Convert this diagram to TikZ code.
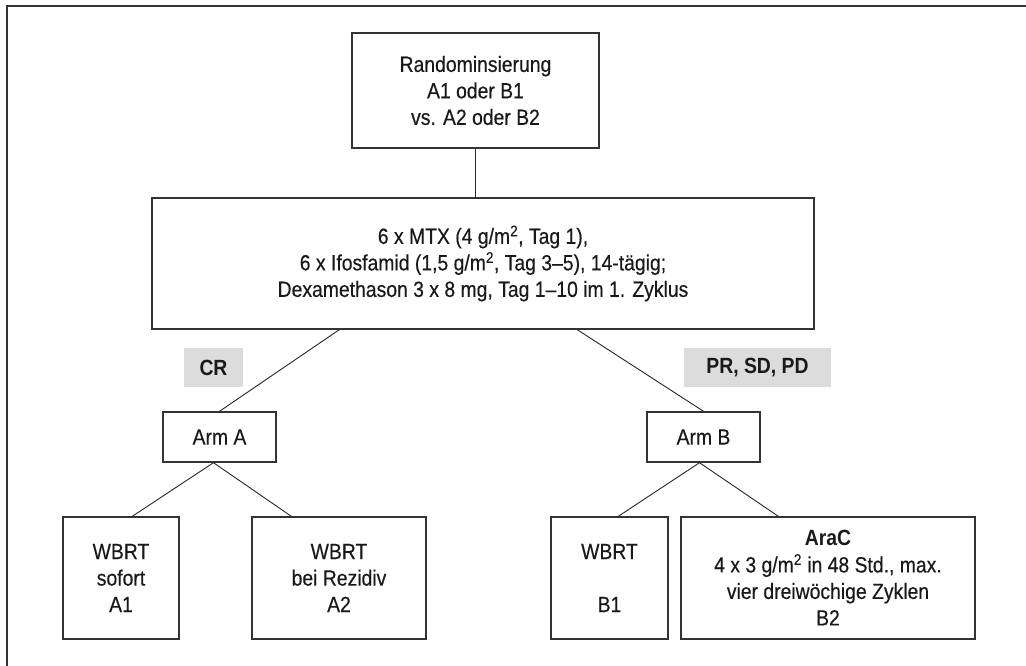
\documentclass[tikz,border=0pt]{standalone}
\usepackage{fontspec}
\setmainfont{Liberation Sans}[FakeStretch=0.88, UprightFeatures={FakeBold=0.35}]
\definecolor{boxline}{HTML}{333333}
\definecolor{taggray}{HTML}{DCDCDC}
\begin{document}
\begin{tikzpicture}[x=1pt,y=-1pt,
  txt/.style={font=\fontsize{22}{26.5}\selectfont, text=black!90},
  box/.style={txt, draw=boxline, line width=1.4pt, align=center, inner sep=0pt},
  tag/.style={fill=taggray, font=\fontsize{22}{26.5}\selectfont\bfseries, text=black!90, inner sep=0pt},
  link/.style={draw=black!85, line width=0.9pt},
  frameline/.style={draw=boxline, line width=1.8pt}]
\useasboundingbox (0,0) rectangle (1026,666);

% outer frame (only its top and left sides lie on the page)
\draw[frameline] (1026,6) -- (7,6) -- (7,666);

% study design boxes
\node[box, minimum width=247pt, minimum height=115pt] (top) at (475.5,90.5)
  {Randominsierung\\A1 oder B1\\vs. A2 oder B2};
\node[box, minimum width=662pt, minimum height=131pt] (mid) at (483,263.5)
  {6 x MTX (4 g/m\textsuperscript{2}, Tag 1),\\
   6 x Ifosfamid (1,5 g/m\textsuperscript{2}, Tag 3–5), 14-tägig;\\
   Dexamethason 3 x 8 mg, Tag 1–10 im 1. Zyklus};

% response labels
\node[tag, minimum width=59pt, minimum height=39pt] (cr) at (213.5,367.5) {CR};
\node[tag, minimum width=147pt, minimum height=39pt] (pr) at (757.5,367.5) {PR, SD, PD};

\node[box, minimum width=113pt, minimum height=50pt] (armA) at (219.5,437) {Arm A};
\node[box, minimum width=113pt, minimum height=50pt] (armB) at (703.5,437) {Arm B};

\node[box, minimum width=116pt, minimum height=122pt] (a1) at (121,578) {WBRT\\sofort\\A1};
\node[box, minimum width=174pt, minimum height=122pt] (a2) at (339,578) {WBRT\\bei Rezidiv\\A2};
\node[box, minimum width=117pt, minimum height=122pt] (b1) at (609.5,578) {WBRT\\[26.5pt]B1};
\node[box, minimum width=294pt, minimum height=122pt] (b2) at (828,578)
  {\textbf{AraC}\\4 x 3 g/m\textsuperscript{2} in 48 Std., max.\\vier dreiwöchige Zyklen\\B2};

% connectors
\draw[link] (top.south) -- (top.south |- mid.north);
\draw[link] ([xshift=188pt]mid.south west) -- (armA.north);
\draw[link] ([xshift=426pt]mid.south west) -- (armB.north);
\draw[link] ([xshift=-6pt]armA.south) -- ([xshift=70pt]a1.north west);
\draw[link] ([xshift=-6pt]armA.south) -- ([xshift=40pt]a2.north west);
\draw[link] ([xshift=-4pt]armB.south) -- ([xshift=68pt]b1.north west);
\draw[link] ([xshift=-4pt]armB.south) -- ([xshift=98pt]b2.north west);
\end{tikzpicture}
\end{document}
